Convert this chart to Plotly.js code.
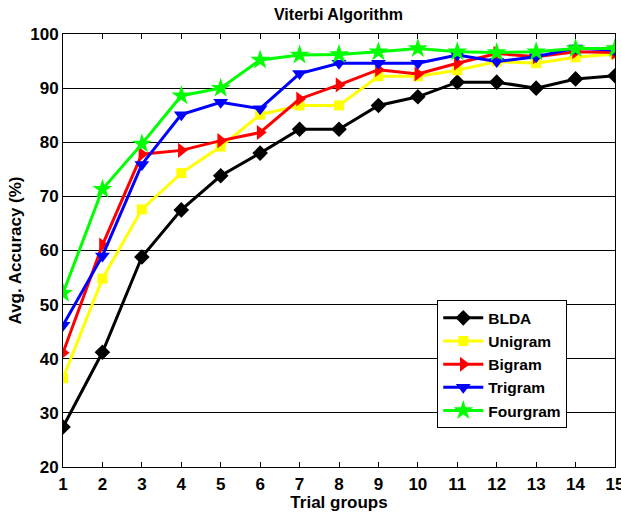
<!DOCTYPE html>
<html>
<head>
<meta charset="utf-8">
<script src="https://cdn.plot.ly/plotly-3.0.1.min.js"></script>
<style>html,body{margin:0;padding:0;background:#fff;}#chart{width:621px;height:512px;}</style>
</head>
<body>
<div id="chart"></div>
<script>
const trials = [1,2,3,4,5,6,7,8,9,10,11,12,13,14,15];
const blda     = [27.4,41.2,58.8,67.5,73.8,78.0,82.4,82.4,86.8,88.4,91.1,91.1,90.0,91.7,92.3];
const unigram  = [36.4,54.8,67.6,74.3,79.2,85.1,86.8,86.8,92.2,92.2,93.3,94.9,94.6,95.7,96.3];
const bigram   = [41.1,61.0,77.8,78.5,80.3,81.8,88.0,90.6,93.4,92.6,94.6,96.4,95.8,96.7,96.6];
const trigram  = [46.2,59.0,75.9,85.1,87.4,86.2,92.7,94.6,94.6,94.6,96.1,94.9,95.8,97.4,97.0];
const fourgram = [52.1,71.3,79.7,88.6,90.0,95.2,96.1,96.2,96.7,97.3,96.7,96.6,96.7,97.3,97.3];
const seriesNames = ['BLDA','Unigram','Bigram','Trigram','Fourgram'];
const yTicks = [20,30,40,50,60,70,80,90,100];

const colors = ['#000000','#ffff00','#ff0000','#0000ff','#00ff00'];
const symbols = ['diamond','square','triangle-right','triangle-down','star'];
const sizes = [12,10,13,13,15];
const data = [blda,unigram,bigram,trigram,fourgram].map((ys,i)=>({
  x: trials, y: ys, name: seriesNames[i], type:'scatter', mode:'lines+markers',
  line:{color:colors[i], width:3},
  marker:{color:colors[i], symbol:symbols[i], size:sizes[i], line:{width:0}}
}));
const fam = 'Arial, Liberation Sans, sans-serif';
const f17 = {family:fam, size:17, color:'#000', weight:700};
const layout = {
  width:621, height:512,
  margin:{l:63, r:6, t:34, b:45},
  paper_bgcolor:'#fff', plot_bgcolor:'#fff',
  font: f17,
  title:{text:'Viterbi Algorithm', x:0.545, xanchor:'center', y:0.972, yanchor:'middle',
         font:{family:fam, size:16, color:'#000', weight:700}},
  showlegend:true,
  legend:{x:0.678, y:0.385, xanchor:'left', yanchor:'top', bgcolor:'#fff',
          bordercolor:'#000', borderwidth:1, font:{family:fam, size:15.5, color:'#000', weight:700},
          tracegroupgap:0, itemwidth:40},
  xaxis:{range:[1,15], tickvals:trials, ticks:'inside', ticklen:5, tickcolor:'#000',
         showline:true, linecolor:'#000', linewidth:1, mirror:'ticks', showgrid:false, zeroline:false,
         ticklabeloverflow:'allow', ticklabelstandoff:2,
         title:{text:'Trial groups', standoff:0, font:f17},
         tickfont:f17},
  yaxis:{range:[20,100], tickvals:yTicks, ticks:'inside', ticklen:5, tickcolor:'#000',
         showline:true, linecolor:'#000', linewidth:1, mirror:'ticks', showgrid:true, gridcolor:'#000', gridwidth:1,
         zeroline:false, ticklabelstandoff:0,
         title:{text:'Avg. Accuracy (%)', standoff:4, font:f17},
         tickfont:f17}
};
Plotly.newPlot('chart', data, layout, {displayModeBar:false, staticPlot:true});
</script>
</body>
</html>
